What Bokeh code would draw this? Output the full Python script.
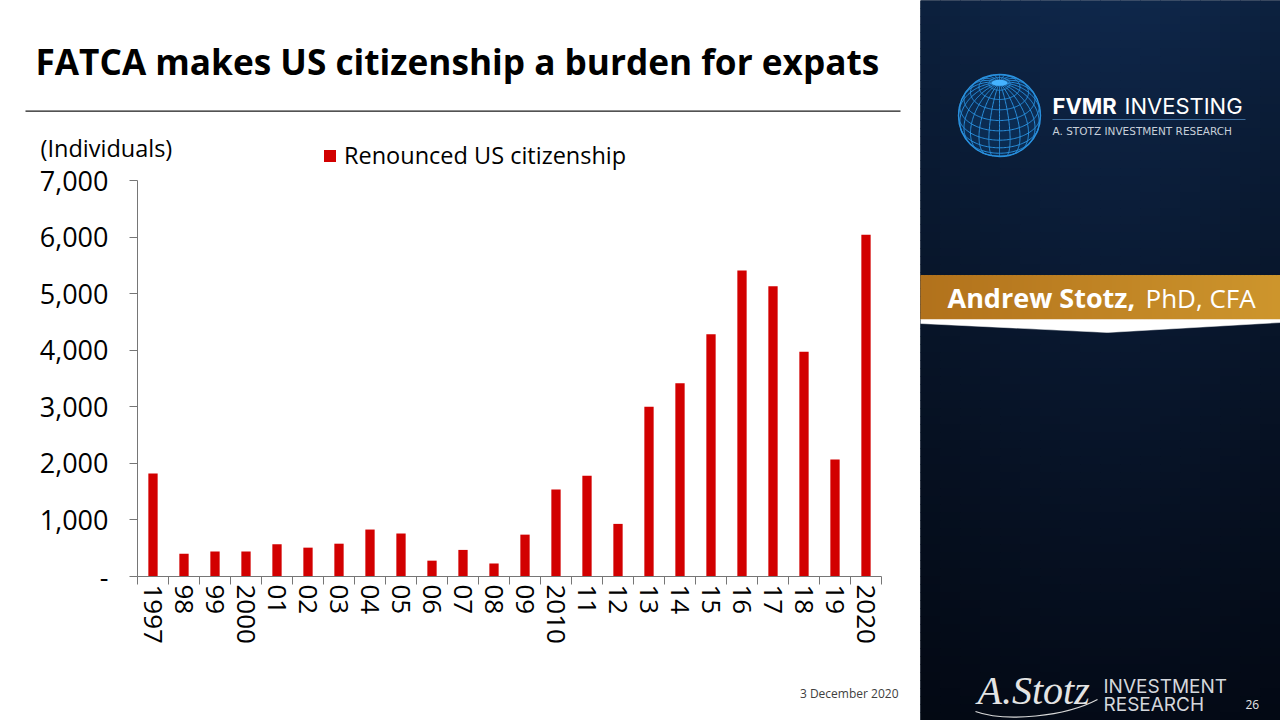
import numpy as np
from bokeh.plotting import figure
from bokeh.models import Range1d, FixedTicker, NumeralTickFormatter, LinearAxis
from bokeh.layouts import row
from bokeh.embed import file_html
from bokeh.resources import INLINE
from bokeh.core.properties import value

# ---------------- data ----------------
years = ["1997", "98", "99", "2000", "01", "02", "03", "04", "05", "06", "07", "08",
         "09", "2010", "11", "12", "13", "14", "15", "16", "17", "18", "19", "2020"]
renounced = [1820, 400, 440, 440, 570, 510, 580, 830, 760, 280, 470, 230,
             740, 1540, 1780, 930, 3000, 3415, 4280, 5410, 5130, 3975, 2070, 6040]
y_ticks = [0, 1000, 2000, 3000, 4000, 5000, 6000, 7000]
series_name = "Renounced US citizenship"
title_text = "FATCA makes US citizenship a burden for expats"
unit_text = "(Individuals)"
date_text = "3 December 2020"

n = len(years)
centers = [i + 0.5 for i in range(n)]
bounds = list(range(n + 1))

# ---------------- layout geometry (pixels) ----------------
W_L, H = 920, 720
AX_L, AX_R = 137, 881          # x-axis extent in px
AX_B, AX_T = 576, 180          # y=0 and y=7000 in px (from top)
YMAX = 7000
xpp = (AX_R - AX_L) / n        # px per category
ypp = (AX_B - AX_T) / YMAX     # px per individual


def dx(px):
    return (px - AX_L) / xpp


def dy(py):
    return (AX_B - py) / ypp


FONT = "Open Sans"

# ---------------- chart figure ----------------
p = figure(width=W_L, height=H,
           x_range=Range1d(dx(0), dx(W_L)), y_range=Range1d(dy(H), dy(0)),
           x_axis_type=None, y_axis_type=None,
           output_backend="svg", toolbar_location=None, min_border=0)
p.outline_line_color = None
p.grid.visible = False
p.background_fill_color = "white"
p.border_fill_color = "white"

p.vbar(x=centers, top=renounced, width=0.3, fill_color="#d20000", line_color=None,
       legend_label=series_name)

axis_col = "#767676"
xa = LinearAxis(fixed_location=0, bounds=(0, n),
                ticker=FixedTicker(ticks=centers, minor_ticks=bounds))
xa.major_label_overrides = {c: lab for c, lab in zip(centers, years)}
xa.major_tick_out = 0
xa.major_tick_in = 0
xa.minor_tick_out = 8
xa.minor_tick_in = 0
xa.minor_tick_line_color = axis_col
xa.axis_line_color = axis_col
xa.major_label_orientation = "vertical"
xa.major_label_standoff = 0
xa.major_label_text_font = FONT
xa.major_label_text_font_size = "26px"
xa.major_label_text_color = "#000000"
p.add_layout(xa, "below")

ya = LinearAxis(fixed_location=0, bounds=(0, YMAX), ticker=FixedTicker(ticks=y_ticks),
                formatter=NumeralTickFormatter(format="0,0"))
ya.major_label_overrides = {0: "-"}
ya.major_tick_out = 8
ya.major_tick_in = 0
ya.minor_tick_out = 0
ya.minor_tick_in = 0
ya.major_tick_line_color = axis_col
ya.axis_line_color = axis_col
ya.major_label_standoff = 21
ya.major_label_text_font = FONT
ya.major_label_text_font_size = "27px"
ya.major_label_text_color = "#000000"
p.add_layout(ya, "left")

leg = p.legend[0]
leg.location = (322, H - 171)
leg.orientation = "horizontal"
leg.border_line_color = None
leg.background_fill_alpha = 0
leg.padding = 0
leg.margin = 0
leg.glyph_width = 15
leg.glyph_height = 15
leg.label_standoff = 7
leg.label_text_font = FONT
leg.label_text_font_size = "23.5px"
leg.label_text_color = "#000000"

# title, rule, unit label, date
p.text(x=[dx(35)], y=[dy(60)], text=[title_text], text_font=value(FONT),
       text_font_style="bold", text_font_size=value("35.2px"), text_color="#000000",
       text_baseline="middle")
p.segment(x0=[dx(25)], y0=[dy(110.7)], x1=[dx(900)], y1=[dy(110.7)],
          line_color="#1a1a1a", line_width=1.3)
p.text(x=[dx(40)], y=[dy(147)], text=[unit_text], text_font=value(FONT),
       text_font_size=value("23.5px"), text_color="#000000", text_baseline="middle")
p.text(x=[dx(898)], y=[dy(693)], text=[date_text], text_font=value(FONT),
       text_font_size=value("12px"), text_color="#404040", text_baseline="middle",
       text_align="right")

# ---------------- right brand panel ----------------
r = figure(width=360, height=H, x_range=Range1d(920, 1280), y_range=Range1d(720, 0),
           output_backend="svg", toolbar_location=None, min_border=0,
           x_axis_type=None, y_axis_type=None)
r.outline_line_color = None
r.grid.visible = False
r.background_fill_color = "#0a1b33"
r.border_fill_color = "#0a1b33"

cw, ch = 20, 8
L, Rr, T, B, C = [], [], [], [], []
top_c = np.array([14, 37, 70])
bot_c = np.array([4, 10, 22])
for y0 in range(0, 720, ch):
    for x0 in range(920, 1280, cw):
        xc, yc = x0 + cw / 2, y0 + ch / 2
        t = yc / 720
        base = top_c + (bot_c - top_c) * t ** 0.85
        hx = np.exp(-((xc - 1110) / 170) ** 2)
        col = np.clip(base * (0.8 + 0.28 * hx), 0, 255).astype(int)
        L.append(x0); Rr.append(x0 + cw); T.append(y0); B.append(y0 + ch)
        C.append("#%02x%02x%02x" % tuple(col))
r.quad(left=L, right=Rr, top=T, bottom=B, fill_color=C, line_color=C, line_width=1)

# globe logo
gx, gy, gr = 999, 115, 41
alpha = np.radians(37)
r.ellipse(x=[gx], y=[gy], width=2 * gr, height=2 * gr, fill_color="#0c3868",
          fill_alpha=0.55, line_color="#2b93e0", line_width=1.4)
mx, my = [], []
for lon in np.radians(np.arange(0, 180, 15)):
    phi = np.radians(np.linspace(-90, 270, 181))
    X = np.cos(phi) * np.sin(lon)
    Y = np.sin(phi)
    Z = np.cos(phi) * np.cos(lon)
    Yp = Y * np.cos(alpha) - Z * np.sin(alpha)
    Zp = Y * np.sin(alpha) + Z * np.cos(alpha)
    mx.append(list(np.where(Zp >= 0, gx + gr * X, np.nan)))
    my.append(list(np.where(Zp >= 0, gy - gr * Yp, np.nan)))
for lat in np.radians(np.arange(-75, 90, 15)):
    lam = np.radians(np.linspace(0, 360, 181))
    X = np.cos(lat) * np.sin(lam)
    Y = np.sin(lat) * np.ones_like(lam)
    Z = np.cos(lat) * np.cos(lam)
    Yp = Y * np.cos(alpha) - Z * np.sin(alpha)
    Zp = Y * np.sin(alpha) + Z * np.cos(alpha)
    mx.append(list(np.where(Zp >= 0, gx + gr * X, np.nan)))
    my.append(list(np.where(Zp >= 0, gy - gr * Yp, np.nan)))
r.multi_line(xs=mx, ys=my, line_color="#2a8fdc", line_width=1)
r.ellipse(x=[gx], y=[gy - gr * np.cos(alpha)], width=16, height=6,
          fill_color="#45b3ff", line_color=None)

r.text(x=[1052], y=[105], text=["FVMR"], text_font=value("Inter"), text_font_style="bold",
       text_font_size=value("22px"), text_color="white", text_baseline="middle")
r.text(x=[1124], y=[105], text=["INVESTING"], text_font=value("Inter"),
       text_font_size=value("22px"), text_color="white", text_baseline="middle")
r.segment(x0=[1052], y0=[119], x1=[1245], y1=[119], line_color="#3f6f9f", line_width=1)
r.text(x=[1052], y=[130], text=["A. STOTZ INVESTMENT RESEARCH"], text_font=value("DejaVu Sans"),
       text_font_size=value("10.5px"), text_color="#c8d0da", text_baseline="middle")

# gold banner
bl, br_, bc = [], [], []
c0 = np.array([178, 114, 28]); c1 = np.array([206, 150, 45])
for x0 in range(920, 1280, 4):
    f = (x0 - 920) / 360
    col = (c0 + (c1 - c0) * f).astype(int)
    bl.append(x0); br_.append(x0 + 4); bc.append("#%02x%02x%02x" % tuple(col))
r.quad(left=bl, right=br_, top=275, bottom=319, fill_color=bc, line_color=bc, line_width=1)
r.patch(x=[920, 1280, 1280, 1107, 920], y=[319, 319, 322, 332, 323], fill_color="white",
        line_color="white", line_width=0.5)
r.text(x=[947], y=[297], text=["Andrew Stotz,"], text_font=value(FONT), text_font_style="bold",
       text_font_size=value("27px"), text_color="white", text_baseline="middle")
r.text(x=[1145], y=[297], text=["PhD, CFA"], text_font=value(FONT),
       text_font_size=value("26px"), text_color="white", text_baseline="middle")

# bottom brand
r.text(x=[977], y=[690], text=["A.Stotz"], text_font=value("Liberation Serif"),
       text_font_style="italic", text_font_size=value("40px"), text_color="#e4e4e4",
       text_baseline="middle")
r.bezier(x0=[975], y0=[711], x1=[1097], y1=[699], cx0=[1005], cy0=[722], cx1=[1065], cy1=[716],
         line_color="#d8d8d8", line_width=1.2)
r.text(x=[1103, 1103], y=[686, 704], text=["INVESTMENT", "RESEARCH"], text_font=value("Inter"),
       text_font_size=value("19px"), text_color="#d4d7dc", text_baseline="middle")
r.text(x=[1245], y=[704], text=["26"], text_font=value(FONT), text_font_size=value("12px"),
       text_color="#e8e8e8", text_baseline="middle")

layout = row(p, r)
open("out.html", "w").write(file_html(layout, INLINE))
